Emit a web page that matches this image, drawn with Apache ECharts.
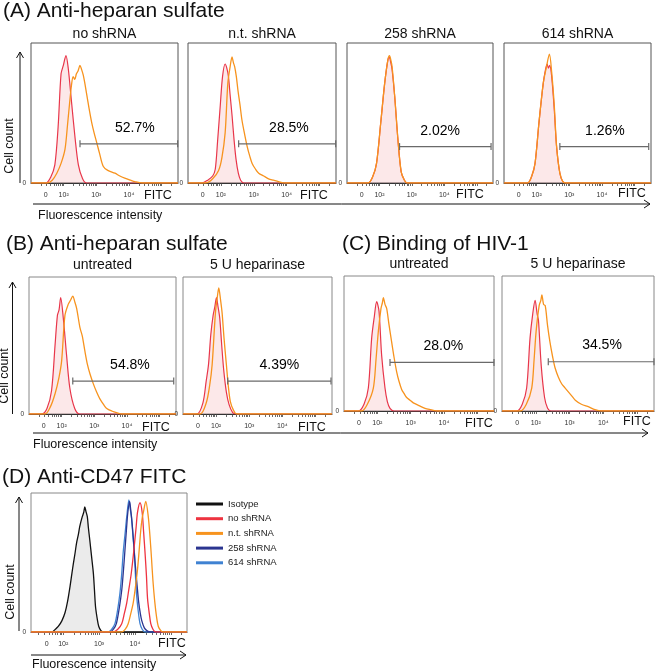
<!DOCTYPE html>
<html><head><meta charset="utf-8">
<script src="https://cdn.jsdelivr.net/npm/echarts@6/dist/echarts.min.js"></script>
<style>html,body{margin:0;padding:0;background:#fff}#c{width:655px;height:672px}</style>
</head><body><div id="c"></div><script>
// ---------- DATA (x in log10 decades of FITC intensity, y in % of panel height) ----------
const tickLabelText = ['0', '10\u00B2', '10\u00B3', '10\u2074'];

// (A) Anti-heparan sulfate
const A_titles = ['no shRNA', 'n.t. shRNA', '258 shRNA', '614 shRNA'];
const A_pct = ['52.7%', '28.5%', '2.02%', '1.26%'];
const A1_red = [[1.0,0],[1.46,0],[1.6,4],[1.73,13],[1.83,40],[1.92,78],[1.99,84],[2.07,91],[2.14,82],[2.24,58],[2.35,32],[2.45,13],[2.58,3],[2.7,0],[5.5,0]];
const A1_orange = [[1.0,0],[1.5,0],[1.65,2],[1.79,7],[1.92,14],[2.04,24],[2.12,42],[2.19,59],[2.24,70],[2.29,76],[2.34,74],[2.39,78],[2.44,80],[2.5,84],[2.55,81],[2.6,77],[2.65,71],[2.7,64],[2.78,53],[2.86,43],[2.93,36],[3.01,29],[3.1,21],[3.21,12],[3.35,9],[3.57,7],[3.72,5],[3.87,3.5],[4.05,2],[4.18,1],[4.4,0],[5.5,0]];
const A2_red = [[1.0,0],[1.42,0],[1.6,2],[1.75,5],[1.83,10],[1.9,30],[1.98,55],[2.05,76],[2.13,85],[2.18,82],[2.23,76],[2.28,63],[2.34,48],[2.4,31],[2.46,17],[2.53,7],[2.6,2],[2.7,0],[5.5,0]];
const A2_orange = [[1.0,0],[1.55,0],[1.75,3],[1.93,9],[2.03,18],[2.13,36],[2.21,71],[2.28,83],[2.34,90],[2.38,86],[2.42,83],[2.47,76],[2.52,66],[2.58,56],[2.64,45],[2.72,35],[2.8,26],[2.88,19],[2.95,14],[3.05,10],[3.15,7],[3.3,5],[3.45,3],[3.6,2],[3.75,1],[3.95,0],[5.5,0]];
const A3_red = [[1.0,0],[1.65,0],[1.8,5],[1.91,14],[2.04,43],[2.16,71],[2.26,88],[2.3,90],[2.35,86],[2.39,81],[2.47,62],[2.57,31],[2.67,8],[2.77,2],[2.85,0],[5.5,0]];
const A3_orange = [[1.0,0],[1.65,0],[1.8,5],[1.91,14],[2.04,43],[2.16,71],[2.26,88],[2.31,91],[2.35,88],[2.39,83],[2.47,62],[2.57,31],[2.67,8],[2.77,2],[2.85,0],[5.5,0]];
const A4_red = [[1.0,0],[1.72,0],[1.85,5],[1.95,14],[2.07,43],[2.2,71],[2.27,81],[2.32,85],[2.36,82],[2.4,84],[2.46,76],[2.54,52],[2.61,26],[2.71,7],[2.8,1],[2.9,0],[5.5,0]];
const A4_orange = [[1.0,0],[1.72,0],[1.85,5],[1.95,14],[2.07,43],[2.2,71],[2.3,83],[2.39,92],[2.46,79],[2.54,55],[2.61,26],[2.71,7],[2.8,1],[2.9,0],[5.5,0]];
// gates: [start, end, height]
const A_gates = [[2.5,5.49,28],[2.54,5.49,28],[2.62,5.44,26],[2.71,5.43,26]];

// (B) Anti-heparan sulfate
const B_titles = ['untreated', '5 U heparinase'];
const B_pct = ['54.8%', '4.39%'];
const B1_red = [[1.0,0],[1.39,0],[1.55,4],[1.69,17],[1.8,51],[1.87,72],[1.92,76],[1.97,85],[2.05,70],[2.15,43],[2.25,19],[2.4,4],[2.55,0],[5.5,0]];
const B1_orange = [[1.0,0],[1.49,0],[1.65,5],[1.8,15],[1.92,27],[2.0,39],[2.1,72],[2.2,80],[2.27,83],[2.34,86],[2.4,82],[2.46,77],[2.56,63],[2.63,57],[2.71,46],[2.79,36],[2.87,29],[2.97,22],[3.07,16],[3.17,11],[3.28,7],[3.38,4],[3.55,2],[3.68,1],[3.85,0],[5.5,0]];
const B2_red = [[1.0,0],[1.42,0],[1.6,8],[1.7,24],[1.77,36],[1.84,58],[1.91,72],[1.96,78],[2.01,85],[2.06,78],[2.11,70],[2.17,50],[2.23,32],[2.31,16],[2.39,7],[2.5,1],[2.6,0],[5.5,0]];
const B2_orange = [[1.0,0],[1.52,0],[1.7,8],[1.8,20],[1.88,36],[1.98,74],[2.04,86],[2.08,92],[2.13,84],[2.18,74],[2.24,55],[2.31,36],[2.37,20],[2.43,9],[2.52,3],[2.62,0],[5.5,0]];
const B_gates = [[2.34,5.43,24],[2.35,5.47,24]];

// (C) Binding of HIV-1
const C_titles = ['untreated', '5 U heparinase'];
const C_pct = ['28.0%', '34.5%'];
const C1_red = [[1.0,0],[1.43,0],[1.6,5],[1.73,17],[1.83,54],[1.91,70],[1.98,81],[2.05,74],[2.13,41],[2.23,17],[2.3,7],[2.38,2],[2.5,0],[5.5,0]];
const C1_orange = [[1.0,0],[1.53,0],[1.7,5],[1.88,17],[1.96,38],[2.03,59],[2.11,76],[2.15,80],[2.18,84],[2.23,79],[2.28,76],[2.35,64],[2.43,51],[2.5,40],[2.58,29],[2.65,22],[2.73,16],[2.8,13],[2.88,10],[2.98,8],[3.08,6],[3.25,4],[3.43,2],[3.6,1],[3.8,0],[5.5,0]];
const C2_red = [[1.0,0],[1.44,0],[1.6,5],[1.73,17],[1.83,54],[1.91,72],[1.98,82],[2.04,72],[2.08,67],[2.16,34],[2.26,10],[2.35,2],[2.45,0],[5.5,0]];
const C2_orange = [[1.0,0],[1.54,0],[1.72,5],[1.88,17],[1.95,38],[2.01,59],[2.1,78],[2.15,82],[2.18,86],[2.23,79],[2.28,78],[2.35,63],[2.42,51],[2.5,40],[2.57,32],[2.67,25],[2.77,20],[2.87,17],[2.97,14],[3.07,11],[3.17,8],[3.35,5],[3.57,3],[3.75,1],[3.95,0],[5.5,0]];
const C_gates = [[2.38,5.5,36],[2.37,5.5,36.5]];

// (D) Anti-CD47 FITC
const D_names = ['Isotype', 'no shRNA', 'n.t. shRNA', '258 shRNA', '614 shRNA'];
const D_iso = [[1.1,0],[1.68,0],[1.78,2],[1.86,4],[1.96,8],[2.05,14],[2.12,22],[2.19,33],[2.24,42],[2.28,49],[2.33,57],[2.37,64],[2.42,70],[2.46,76],[2.53,83],[2.57,86],[2.6,90],[2.63,87],[2.67,83],[2.7,75],[2.74,66],[2.79,54],[2.84,42],[2.87,30],[2.9,18],[2.95,9],[2.99,4],[3.05,1],[3.12,0],[5.45,0]];
const D_no = [[1.1,0],[3.39,0],[3.52,2],[3.63,6],[3.7,13],[3.77,21],[3.83,31],[3.89,41],[3.94,52],[3.98,62],[4.03,75],[4.07,86],[4.14,93],[4.2,86],[4.24,72],[4.28,57],[4.32,40],[4.35,24],[4.4,13],[4.44,6],[4.5,2],[4.57,0],[5.45,0]];
const D_nt = [[1.1,0],[3.63,0],[3.73,2],[3.81,6],[3.88,13],[3.95,21],[4.01,32],[4.07,45],[4.12,60],[4.16,73],[4.2,82],[4.24,87],[4.3,94],[4.37,83],[4.42,68],[4.46,53],[4.5,37],[4.55,22],[4.6,11],[4.65,4],[4.72,1],[4.78,0],[5.45,0]];
const D_258 = [[1.1,0],[3.3,0],[3.4,2],[3.48,6],[3.56,17],[3.63,30],[3.68,45],[3.72,59],[3.76,73],[3.8,86],[3.85,94],[3.88,88],[3.92,78],[3.96,65],[4.0,51],[4.05,36],[4.1,22],[4.15,13],[4.19,8],[4.26,3],[4.33,1],[4.42,0],[5.45,0]];
const D_614 = [[1.1,0],[3.25,0],[3.35,2],[3.44,6],[3.51,15],[3.58,28],[3.63,42],[3.67,57],[3.72,70],[3.77,83],[3.83,95],[3.87,88],[3.9,83],[3.94,70],[3.98,57],[4.01,42],[4.04,28],[4.09,15],[4.14,6],[4.2,2],[4.28,0],[5.45,0]];

// ---------- LAYOUT & STYLE ----------
const FONT = 'Liberation Sans, Arial, Helvetica, sans-serif';
const RED = '#e8364a', RED_FILL = 'rgba(236,90,100,0.2)', ORANGE = '#f7931e';
const D_colors = ['#111111', '#ee3340', '#f7931e', '#2b3590', '#3f82d2'];

const panels = [
  {box:[31,43,147,140], xr:[1.0,5.5], zero:1.45, border:'#555', red:A1_red, orange:A1_orange, gate:A_gates[0], pct:A_pct[0], pctAt:[4.18,39]},
  {box:[188,43,148,140], xr:[1.0,5.5], zero:1.45, border:'#555', red:A2_red, orange:A2_orange, gate:A_gates[1], pct:A_pct[1], pctAt:[4.07,39]},
  {box:[347,43,146,140], xr:[1.0,5.5], zero:1.45, border:'#555', red:A3_red, orange:A3_orange, gate:A_gates[2], pct:A_pct[2], pctAt:[3.87,37]},
  {box:[504,43,147,140], xr:[1.0,5.5], zero:1.45, border:'#555', red:A4_red, orange:A4_orange, gate:A_gates[3], pct:A_pct[3], pctAt:[4.09,37]},
  {box:[29,277,147,137], xr:[1.0,5.5], zero:1.45, border:'#888', red:B1_red, orange:B1_orange, gate:B_gates[0], pct:B_pct[0], pctAt:[4.09,36]},
  {box:[183,277,149,137], xr:[1.0,5.5], zero:1.45, border:'#888', red:B2_red, orange:B2_orange, gate:B_gates[1], pct:B_pct[1], pctAt:[3.91,36]},
  {box:[344,276,150,135], xr:[1.0,5.5], zero:1.45, border:'#888', red:C1_red, orange:C1_orange, gate:C_gates[0], pct:C_pct[0], pctAt:[3.98,48]},
  {box:[502,276,152,135], xr:[1.0,5.5], zero:1.45, border:'#888', red:C2_red, orange:C2_orange, gate:C_gates[1], pct:C_pct[1], pctAt:[3.96,49]}
];
const panelD = {box:[31,493,156,139], xr:[1.1,5.45], zero:1.54, border:'#888'};

function logTicks(lo, hi) {
  const t = [];
  for (let d = 1; d <= 5; d++) for (let m = 1; m <= 9; m++) {
    const v = d + Math.log10(m);
    if (v > lo + 0.03 && v < hi - 0.03) t.push(v);
  }
  return t;
}

const grids = [], xAxes = [], yAxes = [], series = [];
function addGrid(p) {
  const gi = grids.length;
  grids.push({left:p.box[0], top:p.box[1], width:p.box[2], height:p.box[3], show:true,
    borderColor:p.border, borderWidth:1, backgroundColor:'rgba(0,0,0,0)'});
  xAxes.push({type:'value', gridIndex:gi, min:p.xr[0], max:p.xr[1],
    axisLine:{show:true, onZero:false, lineStyle:{color:'#333', width:1}},
    splitLine:{show:false},
    axisTick:{show:true, customValues:logTicks(p.xr[0], p.xr[1]), length:3, lineStyle:{color:'#444', width:0.8}},
    axisLabel:{show:true, customValues:[p.zero, 2, 3, 4], fontSize:7, color:'#333', margin:9, fontFamily:FONT,
      formatter: v => v < 1.9 ? tickLabelText[0] : tickLabelText[Math.round(v) - 1]}
  });
  yAxes.push({type:'value', gridIndex:gi, min:0, max:100,
    axisLine:{show:false}, axisTick:{show:false}, splitLine:{show:false},
    axisLabel:{show:true, customValues:[0], fontSize:6.5, color:'#333', margin:5, fontFamily:FONT}
  });
  return gi;
}
function line(gi, name, data, color, width, fill, z) {
  const s = {type:'line', name, xAxisIndex:gi, yAxisIndex:gi, data, symbol:'none', smooth:0.3,
    lineStyle:{color, width}, itemStyle:{color}, silent:true, z, animation:false};
  if (fill) s.areaStyle = {color:fill, origin:'start'};
  return s;
}

panels.forEach((p, i) => {
  const gi = addGrid(p);
  series.push(line(gi, 'red' + i, p.red, RED, 1.2, RED_FILL, 2));
  series.push(line(gi, 'orange' + i, p.orange, ORANGE, 1.3, null, 3));
  series.push({type:'line', name:'gate' + i, xAxisIndex:gi, yAxisIndex:gi,
    data:[[p.gate[0], p.gate[2]], [p.gate[1], p.gate[2]]],
    symbol:'rect', symbolSize:[1.2, 7], showAllSymbol:true, lineStyle:{color:'#6a6a6a', width:1.2},
    itemStyle:{color:'#6a6a6a'}, silent:true, z:4});
  series.push({type:'scatter', name:'pct' + i, xAxisIndex:gi, yAxisIndex:gi,
    data:[{value:p.pctAt, name:p.pct}], symbolSize:0, itemStyle:{color:'#000', opacity:1}, silent:true,
    label:{show:true, position:[0,0], align:'center', verticalAlign:'middle', formatter:'{b}',
      fontSize:14, color:'#000', opacity:1, textBorderWidth:0, fontFamily:FONT}, z:5});
});

const gD = addGrid(panelD);
series.push(line(gD, D_names[0], D_iso, D_colors[0], 1.3, '#e2e2e2', 2));
series.push(line(gD, D_names[4], D_614, D_colors[4], 1.3, null, 3));
series.push(line(gD, D_names[3], D_258, D_colors[3], 1.3, null, 3));
series.push(line(gD, D_names[1], D_no, D_colors[1], 1.3, null, 3));
series.push(line(gD, D_names[2], D_nt, D_colors[2], 1.3, null, 3));

// ---------- static text & arrows ----------
const G = [];
function txt(text, x, y, size, align, opts) {
  G.push(Object.assign({type:'text', x, y, silent:true,
    style:{text, fontSize:size, fontFamily:FONT, fill:'#111', align:align || 'left', verticalAlign:'middle'}}, opts || {}));
}
function seg(x1, y1, x2, y2, w) {
  G.push({type:'line', silent:true, shape:{x1, y1, x2, y2}, style:{stroke:'#111', lineWidth:w || 1}});
}
function poly(points) {
  G.push({type:'polyline', silent:true, shape:{points}, style:{stroke:'#111', lineWidth:1, fill:null}});
}
// panel titles
txt('(A) Anti-heparan sulfate', 3, 11, 21);
txt('(B) Anti-heparan sulfate', 6, 244, 21);
txt('(C) Binding of HIV-1', 342, 244, 21);
txt('(D) Anti-CD47 FITC', 2, 477, 21);
// sub titles
A_titles.forEach((t, i) => { const b = panels[i].box; txt(t, b[0] + b[2] / 2, 34, 14, 'center'); });
B_titles.forEach((t, i) => { const b = panels[4 + i].box; txt(t, b[0] + b[2] / 2, 265, 14, 'center'); });
C_titles.forEach((t, i) => { const b = panels[6 + i].box; txt(t, b[0] + b[2] / 2, 264, 14, 'center'); });
// FITC labels
[[158,196],[314,196],[470,195],[632,194],[156,428],[312,428],[479,424],[637,422],[172,644]].forEach(p => txt('FITC', p[0], p[1], 12.5, 'center'));
// Cell count (rotated)
[[10,146],[5,376],[11,592]].forEach(p => txt('Cell count', p[0], p[1], 12.5, 'center', {rotation:Math.PI / 2}));
// Fluorescence intensity
txt('Fluorescence intensity', 38, 216, 12.5);
txt('Fluorescence intensity', 33, 445, 12.5);
txt('Fluorescence intensity', 32, 665, 12.5);
// arrows: horizontal
seg(33, 204, 650, 204); poly([[644,200],[650,204],[644,208]]);
seg(33, 433, 648, 433); poly([[642,429],[648,433],[642,437]]);
seg(31, 655, 186, 655); poly([[180,651],[186,655],[180,659]]);
// arrows: vertical
seg(20, 183, 20, 52); poly([[16.5,58],[20,52],[23.5,58]]);
seg(12.5, 414, 12.5, 282); poly([[9,288],[12.5,282],[16,288]]);
seg(19, 631, 19, 497); poly([[15.5,503],[19,497],[22.5,503]]);

const chart = echarts.init(document.getElementById('c'), null, {renderer:'canvas'});
chart.setOption({
  animation:false,
  backgroundColor:'#fff',
  textStyle:{fontFamily:FONT},
  grid:grids, xAxis:xAxes, yAxis:yAxes, series,
  legend:{left:191, top:494, orient:'vertical', itemWidth:27, itemHeight:3, itemGap:4.7, icon:'rect',
    data:D_names, selectedMode:false,
    textStyle:{fontSize:9.5, color:'#222', fontFamily:FONT}},
  graphic:G
});
</script></body></html>
